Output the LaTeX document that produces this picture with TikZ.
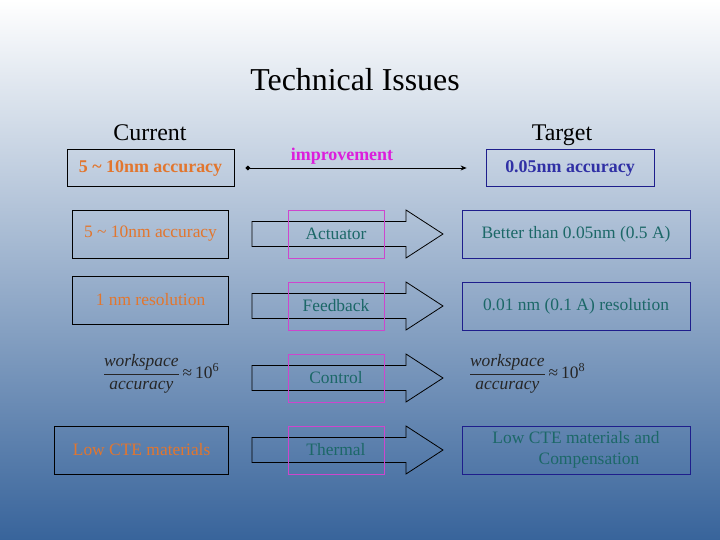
\documentclass[tikz,border=0pt]{standalone}
\usepackage{fontspec}
\setmainfont{Liberation Serif}
\usetikzlibrary{arrows.meta}
\definecolor{bgmid}{RGB}{186,195,212}
\definecolor{bgbot}{RGB}{56,100,155}
\definecolor{curorange}{RGB}{226,118,46}
\definecolor{tgtteal}{RGB}{28,104,104}
\definecolor{tgtblue}{RGB}{30,30,140}
\definecolor{accblue}{RGB}{48,48,165}
\definecolor{magbox}{RGB}{205,70,205}
\definecolor{impmag}{RGB}{220,30,220}
\tikzset{
  pics/blockarrow/.style={code={
    \draw[thick] (0,-12.5) -- (154,-12.5) -- (154,-24) -- (191,0) -- (154,24) -- (154,12.5) -- (0,12.5) -- cycle;
  }}
}
\begin{document}
\begin{tikzpicture}[
        x=1bp, y=-1bp,
        every node/.style={font=\fontsize{17.5}{21}\selectfont},
        curbox/.style={rectangle, draw=black, thick, minimum height=48bp, inner sep=0pt, text=curorange},
        tgtbox/.style={rectangle, draw=tgtblue, thick, minimum width=228bp, minimum height=48bp, inner sep=0pt, text=tgtteal},
        magbox/.style={rectangle, draw=magbox, thick, minimum width=96bp, minimum height=48bp, inner sep=0pt, text=tgtteal},
        boldtext/.style={font=\fontsize{18}{21}\selectfont\bfseries},
        ratio/.style={text=black!85, inner sep=0pt},
        heading/.style={font=\fontsize{24}{28}\selectfont, anchor=base}
      ]
      \shade[top color=white, middle color=bgmid, bottom color=bgbot] (0,0) rectangle (720,540);
      \node (title) at (355,80) {\fontsize{32}{36}\selectfont Technical Issues};
      \node[heading] (cur) at (150,141) {Current};
      \node[heading] (tgt) at (562,141) {Target};
      % overall goal
      \node[curbox, boldtext, minimum width=167bp, minimum height=37bp] (cacc) at (150.5,168) {5 \textasciitilde\ 10nm accuracy};
      \node[tgtbox, boldtext, minimum width=168bp, minimum height=37bp, text=accblue] (tacc) at (570,168) {0.05nm accuracy};
      \draw[{Diamond[length=5pt,width=5pt]}-{Stealth[length=6pt,width=5pt]}, thick, shorten <=11bp, shorten >=19bp] (cacc) -- (tacc);
      \node[boldtext, text=impmag] (imp) at (342,156) {improvement};
      % block arrows
      \pic at (252,234) {blockarrow};
      \pic at (252,306) {blockarrow};
      \pic at (252,378) {blockarrow};
      \pic at (252,450) {blockarrow};
      % current state
      \node[curbox, minimum width=156bp] (c1) at (150.5,234) {5 \textasciitilde\ 10nm accuracy};
      \node[curbox, minimum width=156bp] (c2) at (150.5,300) {1 nm resolution};
      \node[ratio] (c3) at (161,374) {\(\displaystyle\frac{\textit{workspace}}{\textit{accuracy}}\)\,≈\,10\textsuperscript{6}};
      \node[curbox, minimum width=174bp] (c4) at (141.6,450) {Low CTE materials};
      % issues
      \node[magbox] (m1) at (336,234) {Actuator};
      \node[magbox] (m2) at (336,306) {Feedback};
      \node[magbox] (m3) at (336,378) {Control};
      \node[magbox] (m4) at (336,450) {Thermal};
      % targets
      \node[tgtbox] (t1) at (576,234) {Better than 0.05nm (0.5 A)};
      \node[tgtbox] (t2) at (576,306) {0.01 nm (0.1 A) resolution};
      \node[ratio] (t3) at (527,374) {\(\displaystyle\frac{\textit{workspace}}{\textit{accuracy}}\)\,≈\,10\textsuperscript{8}};
      \node[tgtbox, align=center] (t4) at (576,450) {Low CTE materials and\\\hspace*{26bp}Compensation};
    \end{tikzpicture}
\end{document}
